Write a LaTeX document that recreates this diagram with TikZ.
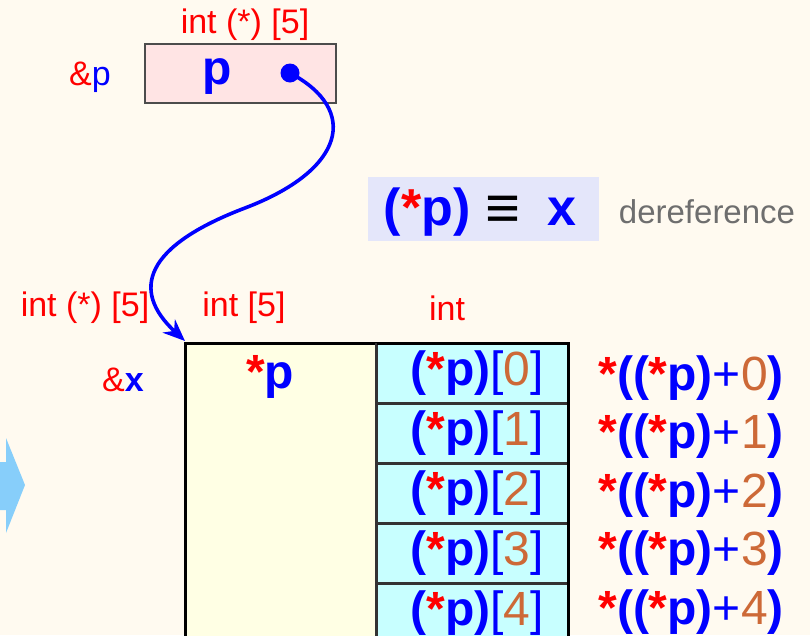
\documentclass[tikz,border=0pt]{standalone}
\usepackage{fontspec}
\setmainfont{Liberation Sans}
\usetikzlibrary{arrows.meta}
\definecolor{bgc}{RGB}{255,250,240}
\definecolor{pinkc}{RGB}{255,228,228}
\definecolor{lavc}{RGB}{228,230,250}
\definecolor{cyanc}{RGB}{200,255,255}
\definecolor{yelc}{RGB}{255,255,228}
\definecolor{orc}{RGB}{205,105,55}
\definecolor{grayt}{RGB}{110,110,110}
\definecolor{skyc}{RGB}{135,206,250}
\newcommand\rst{\textcolor{red}{\textbf{*}}}
\newcommand\bpp{\textcolor{blue}{\textbf{p}}}
\newcommand\bl[1]{\textcolor{blue}{#1}}
\newcommand\onum[1]{\textcolor{orc}{#1}}
\newcommand\celltxt[1]{\hspace*{9pt}\bl{\textbf{(}}\rst\bpp\bl{\textbf{)}[}\onum{#1}\bl{]}}
\newcommand\rtxt[1]{\rst\bl{\textbf{((}}\rst\bpp\bl{\textbf{)}+}\onum{#1}\bl{\textbf{)}}}
\tikzset{
  small/.style={font=\fontsize{34}{38}\selectfont, inner sep=0pt},
  big/.style={font=\fontsize{48}{52}\selectfont, inner sep=0pt},
  cell/.style={draw=black!80, line width=1.6pt, fill=cyanc, minimum width=192pt, minimum height=58.5pt, inner sep=0pt, font=\fontsize{48}{52}\selectfont},
}
\begin{document}
\begin{tikzpicture}[x=1pt,y=-1pt]
\useasboundingbox (0,0) rectangle (810,635);
\fill[bgc] (0,0) rectangle (810,635);
\clip (0,0) rectangle (810,635);
% pointer p
\node[small, text=red] (tp) at (245,25) {int (*) [5]};
\node[small] (ap) at (90,77) {\textcolor{red}{\&}\bl{p}};
\node[draw=black!70, line width=1.5pt, fill=pinkc, minimum width=191pt, minimum height=59pt, inner sep=0pt] (pbox) at (240.5,73.5) {};
\node[big] (pl) at (217,77) {\bpp};
\node[circle, fill=blue, minimum size=19pt, inner sep=0pt] (dot) at (290,73) {};
% equivalence
\node[fill=lavc, minimum width=231pt, minimum height=64pt, inner sep=0pt] (eqbox) at (483.5,209) {};
\node[font=\fontsize{52}{56}\selectfont, inner sep=0pt] (eq1) at (427,212) {\bl{\textbf{(}}\rst\bpp\bl{\textbf{)}}};
\node[font=\fontsize{60}{64}\selectfont, inner sep=0pt] (eq2) at (503,212) {\textbf{≡}};
\node[font=\fontsize{52}{56}\selectfont, inner sep=0pt] (eq3) at (562,212) {\bl{\textbf{x}}};
\node[font=\fontsize{33}{38}\selectfont, inner sep=0pt, text=grayt] (deref) at (707,212) {dereference};
% type labels
\node[small, text=red] (t1) at (85,308) {int (*) [5]};
\node[small, text=red] (t2) at (244,308) {int [5]};
\node[small, text=red] (t3) at (447,308) {int};
\node[small] (ax) at (123,380) {\textcolor{red}{\&}\bl{\textbf{x}}};
% array
\node[fill=yelc, minimum width=191pt, minimum height=300pt, inner sep=0pt, anchor=north west] (xbox) at (185,343) {};
\node[cell, anchor=north west] (c0) at (376,343) {\celltxt{0}};
\node[cell, anchor=north] (c1) at (c0.south) {\celltxt{1}};
\node[cell, anchor=north] (c2) at (c1.south) {\celltxt{2}};
\node[cell, anchor=north] (c3) at (c2.south) {\celltxt{3}};
\node[cell, anchor=north] (c4) at (c3.south) {\celltxt{4}};
\draw[line width=3pt, black] (185,660) -- (xbox.north west) -- (568,343) -- (568,660);
\draw[line width=1.6pt, black!80] (376,343) -- (376,660);
\node[big] (xs) at (270,377) {\rst\bpp};
\node[big] (r0) at (691,378) {\rtxt{0}};
\node[big] (r1) at (691,436) {\rtxt{1}};
\node[big] (r2) at (691,495) {\rtxt{2}};
\node[big] (r3) at (691,553) {\rtxt{3}};
\node[big] (r4) at (691,612) {\rtxt{4}};
\coordinate (tip) at (185,341);
% pointer arrow
\draw[blue, line width=3.6pt, -{Stealth[length=22pt,width=18pt]}] (dot.center) .. controls (360,110) and (345,170) .. (245,208) .. controls (145,246) and (130,290) .. (tip);
% side arrow
\fill[skyc] (0,462) -- (6,462) -- (6,438) -- (25,485) -- (6,533) -- (6,510) -- (0,510) -- cycle;
\end{tikzpicture}
\end{document}
